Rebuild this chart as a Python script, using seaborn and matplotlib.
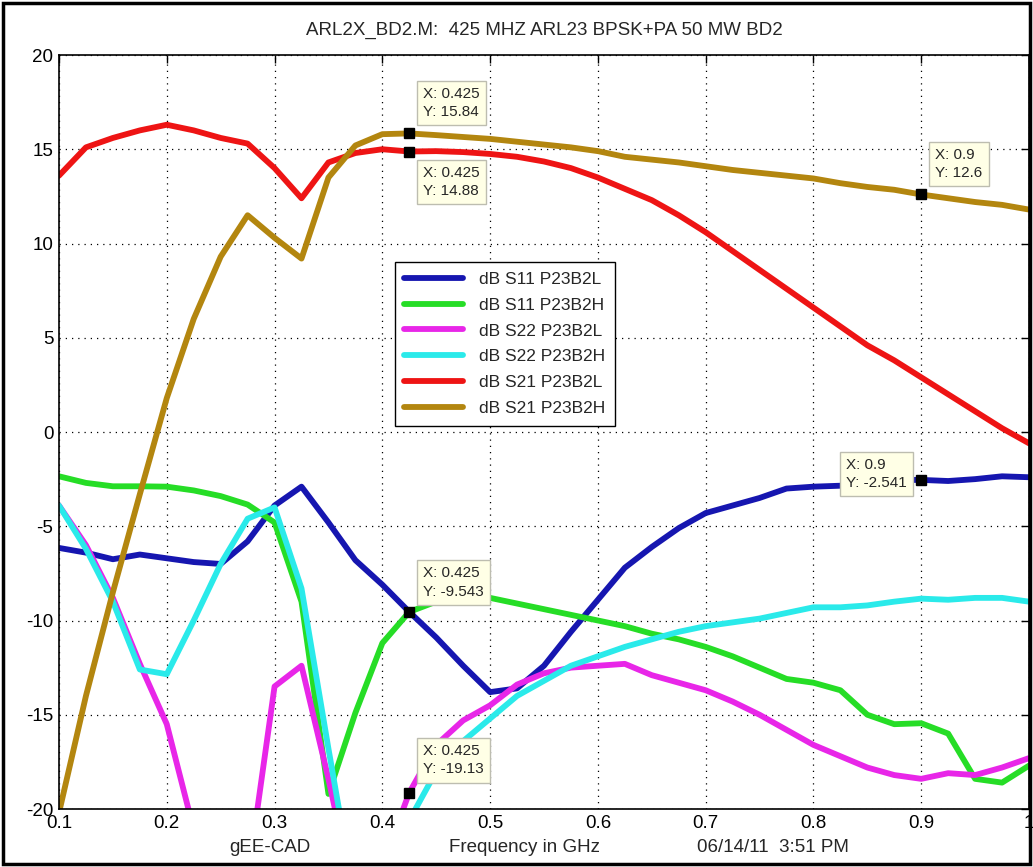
import matplotlib
matplotlib.use("Agg")
import matplotlib.pyplot as plt
from matplotlib import font_manager
from matplotlib.lines import Line2D
from matplotlib.patches import Rectangle
import numpy as np
import pandas as pd
import seaborn as sns

# ---------------- data ----------------
freq = [0.1, 0.125, 0.15, 0.175, 0.2, 0.225, 0.25, 0.275, 0.3, 0.325, 0.35, 0.375,
        0.4, 0.425, 0.45, 0.475, 0.5, 0.525, 0.55, 0.575, 0.6, 0.625, 0.65, 0.675,
        0.7, 0.725, 0.75, 0.775, 0.8, 0.825, 0.85, 0.875, 0.9, 0.925, 0.95, 0.975, 1.0]

s11_l = [-6.15, -6.4, -6.75, -6.5, -6.7, -6.9, -7.0, -5.8, -3.9, -2.9, -4.8, -6.8,
         -8.1, -9.543, -10.9, -12.4, -13.8, -13.6, -12.4, -10.6, -8.9, -7.2, -6.1, -5.1,
         -4.3, -3.9, -3.5, -3.0, -2.9, -2.85, -2.75, -2.55, -2.541, -2.6, -2.5, -2.35, -2.4]
s11_h = [-2.35, -2.7, -2.88, -2.88, -2.9, -3.1, -3.4, -3.85, -4.8, -9.0, -19.2, -14.9,
         -11.2, -9.543, -9.0, -8.8, -8.8, -9.1, -9.4, -9.7, -10.0, -10.3, -10.7, -11.0,
         -11.4, -11.9, -12.5, -13.1, -13.3, -13.7, -15.0, -15.5, -15.45, -16.0, -18.4, -18.6, -17.7]
s22_l = [-3.9, -6.0, -8.8, -12.3, -15.5, -21.1, -27.0, -23.7, -13.5, -12.4, -18.4, -25.0,
         -23.0, -19.13, -16.6, -15.3, -14.5, -13.4, -12.8, -12.5, -12.4, -12.3, -12.9, -13.3,
         -13.7, -14.3, -15.0, -15.8, -16.6, -17.2, -17.8, -18.2, -18.4, -18.1, -18.2, -17.8, -17.3]
s22_h = [-3.9, -6.2, -9.0, -12.6, -12.85, -10.0, -7.0, -4.6, -4.0, -8.3, -16.8, -25.0,
         -27.0, -20.6, -18.0, -16.4, -15.2, -14.0, -13.2, -12.4, -11.9, -11.4, -11.0, -10.6,
         -10.3, -10.1, -9.9, -9.6, -9.3, -9.3, -9.2, -9.0, -8.84, -8.9, -8.8, -8.8, -9.0]
s21_l = [13.6, 15.1, 15.6, 16.0, 16.3, 16.0, 15.6, 15.3, 14.0, 12.4, 14.3, 14.8,
         15.0, 14.88, 14.9, 14.85, 14.75, 14.6, 14.35, 14.0, 13.5, 12.9, 12.3, 11.5,
         10.6, 9.6, 8.6, 7.6, 6.6, 5.6, 4.6, 3.8, 2.9, 2.0, 1.1, 0.2, -0.6]
s21_h = [-20.2, -14.0, -8.5, -3.3, 1.8, 6.0, 9.3, 11.5, 10.3, 9.2, 13.5, 15.2,
         15.8, 15.84, 15.75, 15.65, 15.55, 15.4, 15.25, 15.1, 14.9, 14.6, 14.45, 14.3,
         14.1, 13.9, 13.75, 13.6, 13.45, 13.2, 13.0, 12.85, 12.6, 12.4, 12.2, 12.05, 11.8]

series_names = ["dB S11 P23B2L", "dB S11 P23B2H", "dB S22 P23B2L",
                "dB S22 P23B2H", "dB S21 P23B2L", "dB S21 P23B2H"]
series_colors = ["#1616B0", "#26DD26", "#E826E8", "#2AEAEA", "#EE1414", "#B3860F"]

x_ticks = [0.1, 0.2, 0.3, 0.4, 0.5, 0.6, 0.7, 0.8, 0.9, 1.0]
x_tick_labels = ["0.1", "0.2", "0.3", "0.4", "0.5", "0.6", "0.7", "0.8", "0.9", "1"]
y_ticks = [-20, -15, -10, -5, 0, 5, 10, 15, 20]
y_tick_labels = ["-20", "-15", "-10", "-5", "0", "5", "10", "15", "20"]

tip_x = [0.425, 0.425, 0.9, 0.9, 0.425, 0.425]
tip_y = [15.84, 14.88, 12.6, -2.541, -9.543, -19.13]
tip_xlabels = ["0.425", "0.425", "0.9", "0.9", "0.425", "0.425"]
tip_ylabels = ["15.84", "14.88", "12.6", "-2.541", "-9.543", "-19.13"]

title_text = "ARL2X_BD2.M:  425 MHZ ARL23 BPSK+PA 50 MW BD2"
footer_left = "gEE-CAD"
footer_mid = "Frequency in GHz"
footer_right = "06/14/11  3:51 PM"

# ---------------- build long-form table ----------------
all_vals = [s11_l, s11_h, s22_l, s22_h, s21_l, s21_h]
frames = []
for name, vals in zip(series_names, all_vals):
    frames.append(pd.DataFrame({"freq": freq, "dB": vals, "series": name}))
df = pd.concat(frames, ignore_index=True)

# ---------------- style ----------------
sns.set_style("white")
available = {f.name for f in font_manager.fontManager.ttflist}
narrow = "Liberation Sans Narrow" if "Liberation Sans Narrow" in available else "Liberation Sans"
plt.rcParams["font.family"] = ["Liberation Sans", "DejaVu Sans"]

fig = plt.figure(figsize=(10.33, 8.67), dpi=100)
fig.patch.set_facecolor("white")
ax = fig.add_axes([59 / 1033, 1 - 809 / 867, 970 / 1033, 754 / 867])

sns.lineplot(data=df, x="freq", y="dB", hue="series", hue_order=series_names,
             palette=dict(zip(series_names, series_colors)), linewidth=4.2,
             estimator=None, sort=False, legend=False, ax=ax)

ax.set_xlim(0.1, 1.0)
ax.set_ylim(-20, 20)
ax.set_xticks(x_ticks)
ax.set_xticklabels(x_tick_labels, family=[narrow, "DejaVu Sans"], fontsize=13.5)
ax.set_yticks(y_ticks)
ax.set_yticklabels(y_tick_labels, family=[narrow, "DejaVu Sans"], fontsize=13.5)
ax.tick_params(direction="in", length=6, width=1, top=True, right=True,
               colors="black", pad=4)
ax.grid(True, color="black", linestyle=(0, (1, 4)), linewidth=0.9)
ax.set_xlabel("")
ax.set_ylabel("")
for sp in ax.spines.values():
    sp.set_color("black")
    sp.set_linewidth(1.2)

# legend
handles = [Line2D([0], [0], color=c, lw=4.2) for c in series_colors]
leg = ax.legend(handles, series_names, loc="upper left",
                bbox_to_anchor=(0.346, 0.7255), borderaxespad=0,
                fancybox=False, framealpha=1, edgecolor="black",
                fontsize=12.5, handlelength=3.4, labelspacing=0.62,
                borderpad=0.55, handletextpad=0.9)
leg.get_frame().set_linewidth(1.0)

# data tips
ax.plot(tip_x, tip_y, linestyle="none", marker="s", markersize=7,
        color="black", zorder=10)
placements = [
    ((8, 8), "left", "bottom"),
    ((8, -8), "left", "top"),
    ((8, 8), "left", "bottom"),
    ((-8, 6), "right", "center"),
    ((8, 7), "left", "bottom"),
    ((8, 10), "left", "bottom"),
]
fs_tip = 11
pad_px = 0.4 * fs_tip * 100 / 72
for tx, ty, xl, yl, ((dx, dy), ha, va) in zip(tip_x, tip_y, tip_xlabels, tip_ylabels, placements):
    sx = dx + (pad_px if dx > 0 else -pad_px)
    if va == "center":
        sy = dy
    else:
        sy = dy + (pad_px if dy > 0 else -pad_px)
    ax.annotate(f"X: {xl}\nY: {yl}", xy=(tx, ty), xytext=(sx, sy),
                textcoords="offset pixels", ha=ha, va=va, fontsize=fs_tip,
                multialignment="left", linespacing=1.4, zorder=11,
                bbox=dict(boxstyle="square,pad=0.4", fc="#FFFFE6", ec="#BDBDB0", lw=1.0))

# title and footer
fig.text(544 / 1033, 1 - 30 / 867, title_text, ha="center", va="center",
         fontsize=13.5, family=[narrow, "DejaVu Sans"])
for txt, cx in [(footer_left, 270), (footer_mid, 524), (footer_right, 773)]:
    fig.text(cx / 1033, 1 - 848 / 867, txt, ha="center", va="center",
             fontsize=13.5, family=[narrow, "DejaVu Sans"])

# figure frame
fig.patches.append(Rectangle((0.0025, 0.003), 0.995, 0.994, transform=fig.transFigure,
                             fill=False, edgecolor="black", linewidth=2.5, zorder=20))

fig.savefig("out.png", dpi=100, facecolor="white")
